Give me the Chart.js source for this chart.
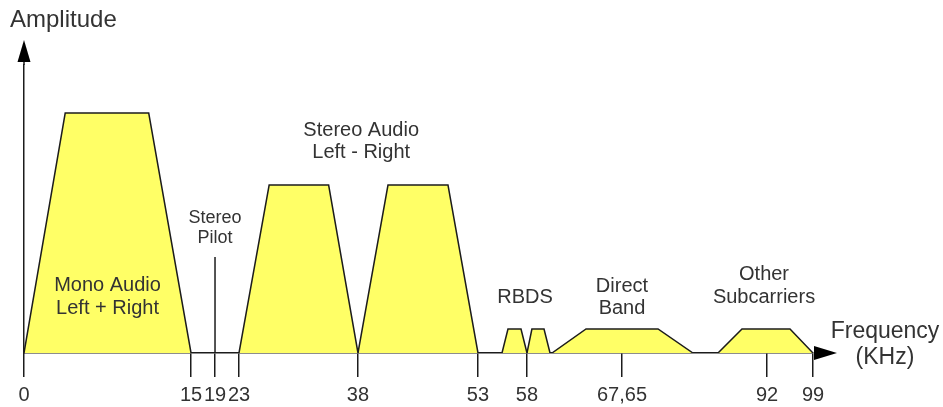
<!DOCTYPE html>
<html>
<head>
<meta charset="utf-8">
<script src="https://cdn.jsdelivr.net/npm/chart.js@4.4.1/dist/chart.umd.min.js"></script>
<style>
  html, body { margin: 0; padding: 0; background: #ffffff; }
  #wrap { width: 943px; height: 407px; }
</style>
</head>
<body>
<div id="wrap"><canvas id="c" width="943" height="407"></canvas></div>
<script>
// ---- Data (frequencies in kHz, amplitude in relative units) ----
const tickValues = [0, 15, 19, 23, 38, 53, 58, 67.65, 92, 99];
const tickLabels = ['0', '15', '19', '23', '38', '53', '58', '67,65', '92', '99'];

const monoX = [0, 3.7, 11.2, 15];
const monoY = [0, 1.0, 1.0, 0];

const pilotX = [19, 19];
const pilotY = [0, 0.4];

const stereoLowerX = [23, 26.8, 34.3, 38];
const stereoUpperX = [38, 41.75, 49.25, 53];
const stereoY = [0, 0.7, 0.7, 0];

const rbdsLowerX = [55.45, 56.06, 57.39, 58];
const rbdsUpperX = [58, 58.5, 59.73, 60.34];
const rbdsY = [0, 0.1, 0.1, 0];

const directBandX = [60.54, 64.0, 73.7, 79.57];
const directBandY = [0, 0.1, 0.1, 0];

const otherX = [83.77, 87.8, 95.5, 99];
const otherY = [0, 0.1, 0.1, 0];

// ---- Schematic (piecewise-linear) frequency axis: where each labelled frequency sits along the axis ----
const axisFractions = [0, 0.2117, 0.2421, 0.2725, 0.4233, 0.5754, 0.6375, 0.7579, 0.9417, 1];

function freqToFraction(v) {
  const b = tickValues, f = axisFractions;
  if (v <= b[0]) return f[0] + (v - b[0]) * (f[1] - f[0]) / (b[1] - b[0]);
  for (let i = 1; i < b.length; i++) {
    if (v <= b[i]) return f[i - 1] + (v - b[i - 1]) * (f[i] - f[i - 1]) / (b[i] - b[i - 1]);
  }
  const n = b.length - 1;
  return f[n] + (v - b[n]) * (f[n] - f[n - 1]) / (b[n] - b[n - 1]);
}
function fractionToFreq(d) {
  const b = tickValues, f = axisFractions;
  for (let i = 1; i < f.length; i++) {
    if (d <= f[i]) return b[i - 1] + (d - f[i - 1]) * (b[i] - b[i - 1]) / (f[i] - f[i - 1]);
  }
  const n = f.length - 1;
  return b[n] + (d - f[n]) * (b[n] - b[n - 1]) / (f[n] - f[n - 1]);
}

class SchematicScale extends Chart.LinearScale {
  getPixelForValue(value) {
    if (value === null || value === undefined || isNaN(value)) return NaN;
    return this.getPixelForDecimal(freqToFraction(value));
  }
  getValueForPixel(pixel) {
    return fractionToFreq(this.getDecimalForPixel(pixel));
  }
}
SchematicScale.id = 'schematic';
SchematicScale.defaults = Chart.LinearScale.defaults;
Chart.register(SchematicScale);

// ---- Styling ----
const FONT = '"Liberation Sans", Arial, Helvetica, sans-serif';
const INK = '#1c1c1c';
const TEXT = '#333333';
const FILL = '#ffff66';

function pts(xs, ys) { return xs.map((x, i) => ({ x: x, y: ys[i] })); }
function band(label, xs, ys) {
  return {
    label: label, data: pts(xs, ys),
    borderColor: INK, borderWidth: 1.5, backgroundColor: FILL,
    fill: 'origin', pointRadius: 0, tension: 0
  };
}

// Text annotations anchored in data coordinates (x in kHz, y in amplitude of first line)
const annotations = [
  { lines: ['Mono Audio', 'Left + Right'], x: 7.5, y: 0.283, size: 20, gap: 23 },
  { lines: ['Stereo', 'Pilot'], x: 19, y: 0.5625, size: 18, gap: 20 },
  { lines: ['Stereo Audio', 'Left - Right'], x: 38.4, y: 0.929, size: 20, gap: 22 },
  { lines: ['RBDS'], x: 57.8, y: 0.233, size: 20, gap: 22 },
  { lines: ['Direct', 'Band'], x: 67.65, y: 0.279, size: 20, gap: 22 },
  { lines: ['Other', 'Subcarriers'], x: 91.5, y: 0.329, size: 20, gap: 23 }
];

const decorPlugin = {
  id: 'decor',
  afterDraw(chart) {
    const ctx = chart.ctx;
    const ca = chart.chartArea;
    const xs = chart.scales.x, ys = chart.scales.y;
    ctx.save();
    // y axis extension + arrowhead
    ctx.strokeStyle = INK; ctx.fillStyle = '#000';
    ctx.lineWidth = 1.5;
    ctx.beginPath(); ctx.moveTo(ca.left, ca.top); ctx.lineTo(ca.left, ca.top - 4); ctx.stroke();
    ctx.beginPath();
    ctx.moveTo(ca.left, ca.top - 25);
    ctx.lineTo(ca.left - 6.5, ca.top - 3);
    ctx.lineTo(ca.left + 6.5, ca.top - 3);
    ctx.closePath(); ctx.fill();
    // x axis arrowhead
    ctx.beginPath();
    ctx.moveTo(ca.right + 24, ca.bottom);
    ctx.lineTo(ca.right + 1, ca.bottom - 7);
    ctx.lineTo(ca.right + 1, ca.bottom + 7);
    ctx.closePath(); ctx.fill();

    // axis titles
    ctx.fillStyle = TEXT;
    ctx.textBaseline = 'middle';
    ctx.textAlign = 'left';
    ctx.font = '24px ' + FONT;
    ctx.fillText('Amplitude', ca.left - 14, 20);
    ctx.textAlign = 'center';
    ctx.font = '23px ' + FONT;
    ctx.fillText('Frequency', ca.right + 72, ca.bottom - 21);
    ctx.fillText('(KHz)', ca.right + 72, ca.bottom + 5);

    // band annotations
    annotations.forEach(a => {
      ctx.font = a.size + 'px ' + FONT;
      const px = xs.getPixelForValue(a.x);
      const py = ys.getPixelForValue(a.y);
      a.lines.forEach((t, i) => ctx.fillText(t, px, py + i * a.gap));
    });
    ctx.restore();
  }
};

new Chart(document.getElementById('c'), {
  type: 'line',
  data: {
    datasets: [
      band('Mono Audio L+R', monoX, monoY),
      { label: 'Stereo Pilot', data: pts(pilotX, pilotY), borderColor: INK, borderWidth: 1.5, pointRadius: 0, fill: false },
      band('Stereo Audio L-R (lower)', stereoLowerX, stereoY),
      band('Stereo Audio L-R (upper)', stereoUpperX, stereoY),
      band('RBDS (lower)', rbdsLowerX, rbdsY),
      band('RBDS (upper)', rbdsUpperX, rbdsY),
      band('Direct Band', directBandX, directBandY),
      band('Other Subcarriers', otherX, otherY)
    ]
  },
  options: {
    responsive: false,
    animation: false,
    devicePixelRatio: 1,
    layout: { padding: { left: 24, right: 130, top: 65, bottom: 0 } },
    plugins: { legend: { display: false }, tooltip: { enabled: false } },
    scales: {
      x: {
        type: 'schematic',
        min: 0, max: 99,
        afterBuildTicks: s => { s.ticks = tickValues.map(v => ({ value: v })); },
        afterFit: s => { s.height = 54; },
        ticks: {
          autoSkip: false, maxRotation: 0, padding: 6,
          color: TEXT, font: { family: FONT, size: 20 },
          callback: (v, i) => tickLabels[i]
        },
        grid: { drawOnChartArea: false, drawTicks: true, tickLength: 24, color: INK, lineWidth: 1.5 },
        border: { display: true, color: INK, width: 1.5 }
      },
      y: {
        type: 'linear', min: 0, max: 1.2,
        afterFit: s => { s.width = 0; },
        ticks: { display: false },
        grid: { display: false },
        border: { display: true, color: INK, width: 1.5 }
      }
    }
  },
  plugins: [decorPlugin]
});
</script>
</body>
</html>
